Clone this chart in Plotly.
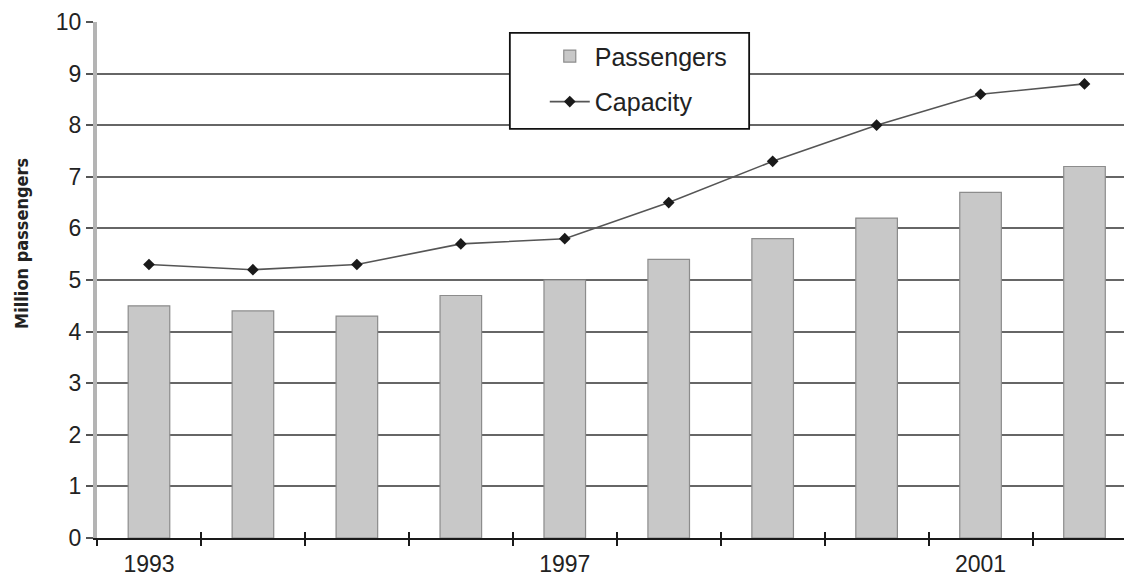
import plotly.graph_objects as go

years = ["1993", "1994", "1995", "1996", "1997", "1998", "1999", "2000", "2001", "2002"]
passengers = [4.5, 4.4, 4.3, 4.7, 5.0, 5.4, 5.8, 6.2, 6.7, 7.2]
capacity = [5.3, 5.2, 5.3, 5.7, 5.8, 6.5, 7.3, 8.0, 8.6, 8.8]
labelled_years = ["1993", "1997", "2001"]

idx = list(range(len(years)))
label_pos = [years.index(y) for y in labelled_years]

text_font = "Liberation Sans, Arial, Helvetica, sans-serif"

fig = go.Figure()
fig.add_trace(go.Bar(
    x=idx, y=passengers, name="Passengers", width=0.4, legendgroup="p",
    marker=dict(color="#c8c8c8", line=dict(color="#8c8c8c", width=1.2)),
))
fig.add_trace(go.Scatter(
    x=idx, y=capacity, name="Capacity", mode="lines+markers", legendgroup="c",
    line=dict(color="#555555", width=1.6),
    marker=dict(symbol="diamond", size=9, color="#1a1a1a"),
))

# invisible helper trace so the secondary x axis is drawn with its tick marks
fig.add_trace(go.Scatter(x=[0], y=[0], xaxis="x2", mode="markers",
                         marker=dict(opacity=0), showlegend=False, hoverinfo="skip"))

fig.update_layout(
    width=1124, height=579,
    margin=dict(l=97, r=0, t=22, b=41, autoexpand=False),
    paper_bgcolor="white", plot_bgcolor="white",
    font=dict(family=text_font, color="#222222", size=23),
    showlegend=True,
    legend=dict(
        x=0.436, y=0.978, xanchor="left", yanchor="top",
        bgcolor="rgba(0,0,0,0)", borderwidth=0,
        font=dict(size=25, color="#222222"),
        tracegroupgap=10, itemwidth=40,
    ),
    xaxis=dict(
        range=[-0.5, 9.38], automargin=False,
        tickmode="array", tickvals=label_pos, ticktext=labelled_years,
        ticks="outside", ticklen=4, tickcolor="rgba(0,0,0,0)",
        showgrid=False, zeroline=False,
        showline=True, linecolor="#1a1a1a", linewidth=2,
        minor=dict(tick0=0.5, dtick=1, ticks="outside", ticklen=6,
                   tickcolor="#1a1a1a", tickwidth=1.5, showgrid=False),
        tickfont=dict(size=23),
    ),
    xaxis2=dict(
        overlaying="x", range=[-0.5, 9.38], matches="x", automargin=False,
        tickmode="linear", tick0=0.5, dtick=1,
        ticks="inside", ticklen=6, tickcolor="#1a1a1a", tickwidth=1.5,
        showticklabels=False, showgrid=False, zeroline=False, showline=False,
    ),
    yaxis=dict(
        range=[0, 10], tickmode="linear", tick0=0, dtick=1, automargin=False,
        ticks="outside", ticklen=7, tickcolor="#555555", tickwidth=2,
        showgrid=True, gridcolor="#666666", gridwidth=2.4,
        zeroline=False,
        showline=True, linecolor="#b4b4b4", linewidth=4,
        tickfont=dict(size=23),
    ),
    shapes=[dict(
        type="rect", xref="paper", yref="paper",
        x0=0.402, x1=0.635, y0=0.793, y1=0.979,
        fillcolor="white", line=dict(color="#111111", width=1.8), layer="above",
    )],
    annotations=[dict(
        text="<b>Million passengers</b>", textangle=-90,
        xref="paper", yref="paper", x=-0.073, y=0.57,
        xanchor="center", yanchor="middle", showarrow=False,
        font=dict(family="DejaVu Sans Condensed, Liberation Sans Narrow, sans-serif",
                  size=18, color="#222222"),
    )],
)

fig.write_html("out.html")
